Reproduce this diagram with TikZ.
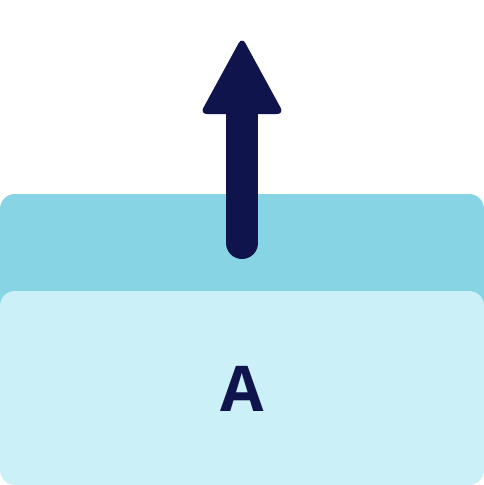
\documentclass[tikz,border=0pt]{standalone}
\usepackage{fontspec}
\setmainfont{Open Sans}
\definecolor{tealdark}{HTML}{86D4E4}
\definecolor{teallight}{HTML}{CCF0F7}
\definecolor{navy}{HTML}{0F144D}
\begin{document}
\begin{tikzpicture}[x=1pt,y=-1pt,
  panel/.style={rounded corners=15pt},
  label/.style={text=navy,font=\fontsize{63}{63}\selectfont\bfseries,inner sep=0pt,anchor=base}]
\useasboundingbox (0,0) rectangle (484,485);
\fill[tealdark,panel] (0,194) rectangle (484,320);
\fill[teallight,panel] (0,291) rectangle (484,485);
\coordinate (tail) at (242,243);
\coordinate (headbase) at (242,108);
\draw[navy,line width=32pt,line cap=round] (tail) -- (headbase);
\fill[navy,rounded corners=7pt] (242,37) -- (284,114) -- (200,114) -- cycle;
\node[label] (a) at (242,411) {A};
\end{tikzpicture}
\end{document}
